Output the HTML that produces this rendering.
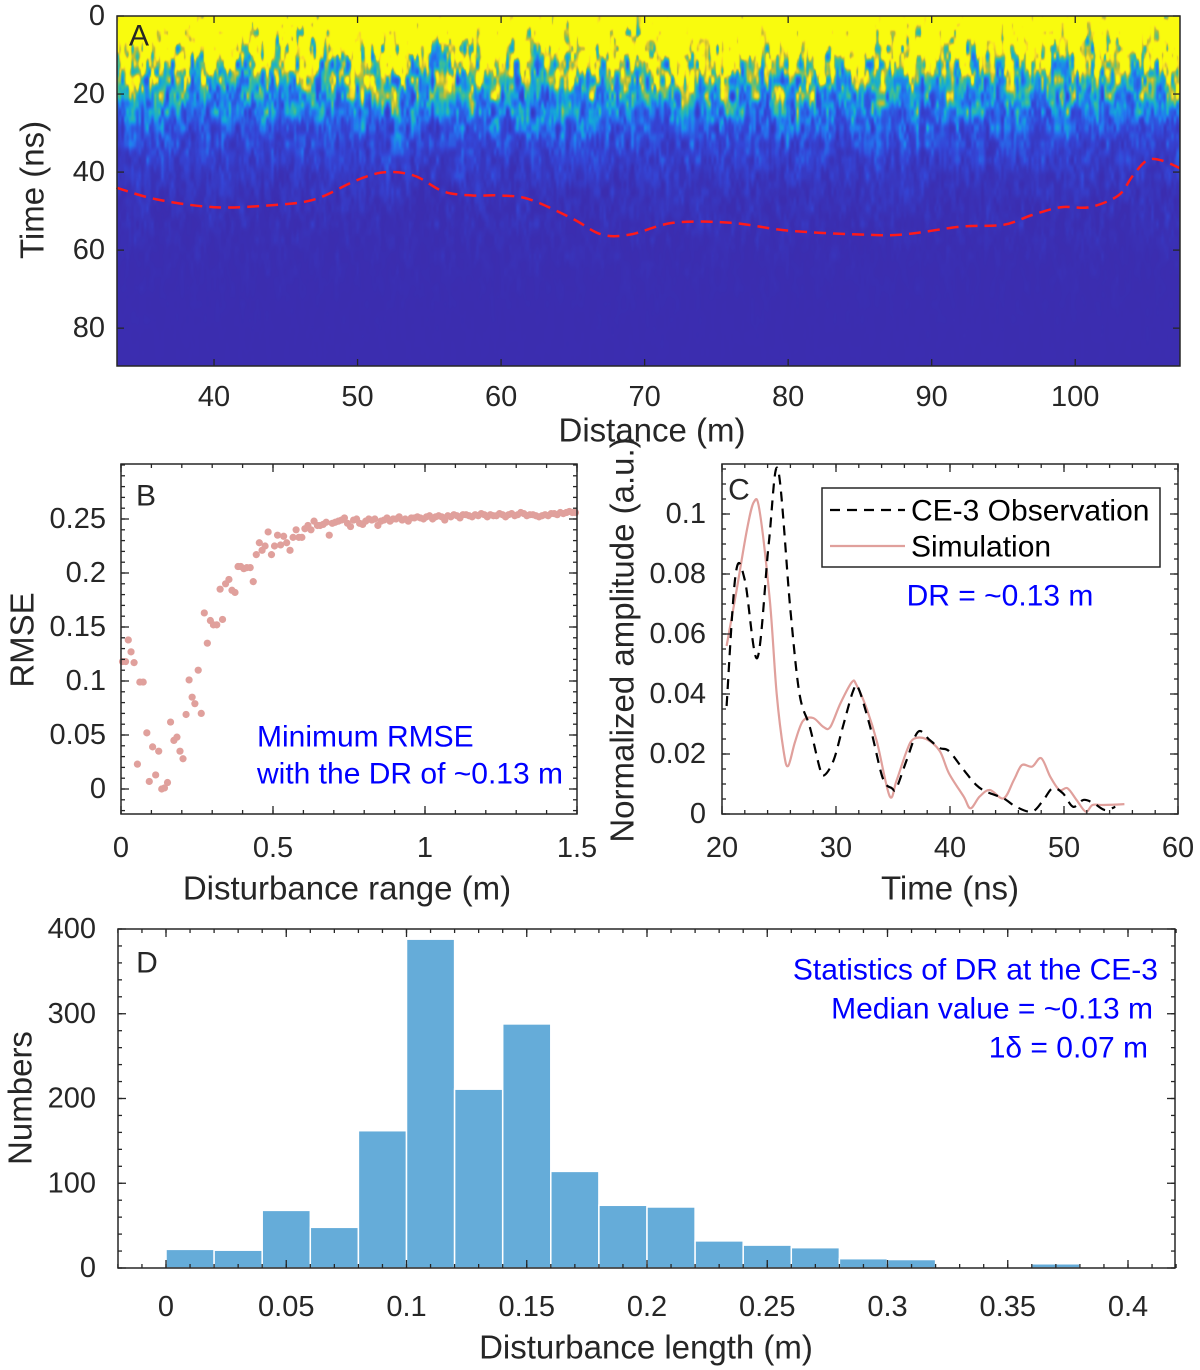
<!DOCTYPE html>
<html><head><meta charset="utf-8"><style>
html,body{margin:0;padding:0;background:#fff;}
#wrap{position:relative;width:1200px;height:1370px;overflow:hidden;font-family:"Liberation Sans",Arial,sans-serif;}
#hm{position:absolute;left:117px;top:16px;}
svg{position:absolute;left:0;top:0;}
text{font-family:"Liberation Sans",Arial,sans-serif;fill:#262626;}
</style></head><body>
<div id="wrap">
<canvas id="hm" width="1063" height="350"></canvas>
<svg id="s" width="1200" height="1370"></svg>
</div>
<script>
// ---- Panel A data ----
const boundaryDist = [33.2,36,40,44,47,50,52,54,56,58,60,62,65,67,69,72,76,80,85,88,92,95,97,99,101,103,104,105,106,107.3];
const boundaryTime = [44,47,49,48.5,47,42,40,41,45,46,46,47,52,56,56,53,53,55,56,56,54,53.5,51,49,49,46,41,37,37,39];
const aXTicks = [40,50,60,70,80,90,100];
const aYTicks = [0,20,40,60,80];
// ---- Panel B data ----
const rmseX = [0.005,0.015,0.024,0.033,0.043,0.062,0.073,0.054,0.085,0.093,0.104,0.114,0.124,0.134,0.143,0.153,0.163,0.174,0.184,0.194,0.204,0.214,0.224,0.234,0.243,0.254,0.264,0.274,0.284,0.294,0.304,0.315,0.326,0.334,0.344,0.355,0.365,0.375,0.385,0.394,0.404,0.414,0.425,0.435,0.445,0.455,0.464,0.474,0.484,0.495,0.505,0.515,0.525,0.535,0.545,0.556,0.566,0.576,0.585,0.595,0.605,0.615,0.625,0.635,0.646,0.655,0.665,0.675,0.685,0.695,
0.705,0.715,0.725,0.735,0.745,0.755,0.765,0.775,0.785,0.795,0.805,0.815,0.825,0.835,0.845,0.855,0.865,0.875,0.885,0.895,0.905,0.915,0.925,0.935,0.945,0.955,0.965,0.975,0.985,0.995,1.005,1.015,1.025,1.035,1.045,1.055,1.065,1.075,1.085,1.095,1.105,1.115,1.125,1.135,1.145,1.155,1.165,1.175,1.185,1.195,1.205,1.215,1.225,1.235,1.245,1.255,1.265,1.275,1.285,1.295,1.305,1.315,1.325,1.335,1.345,1.355,1.365,1.375,1.385,1.395,1.405,1.415,1.425,1.435,1.445,1.455,1.465,1.475,1.485,1.495];
const rmseY = [0.118,0.118,0.138,0.127,0.117,0.099,0.099,0.023,0.052,0.007,0.039,0.013,0.035,0,0.001,0.006,0.062,0.045,0.048,0.035,0.028,0.069,0.101,0.085,0.079,0.11,0.07,0.163,0.135,0.156,0.152,0.152,0.185,0.157,0.19,0.194,0.184,0.182,0.206,0.206,0.204,0.205,0.205,0.192,0.217,0.228,0.221,0.225,0.238,0.217,0.225,0.235,0.226,0.234,0.228,0.221,0.233,0.24,0.233,0.233,0.241,0.244,0.24,0.248,0.244,0.244,0.245,0.247,0.235,0.246,
0.247,0.248,0.249,0.251,0.246,0.243,0.249,0.25,0.246,0.245,0.248,0.25,0.249,0.25,0.244,0.248,0.249,0.251,0.248,0.25,0.25,0.252,0.249,0.25,0.248,0.251,0.251,0.252,0.251,0.25,0.252,0.253,0.25,0.252,0.253,0.252,0.249,0.253,0.252,0.254,0.253,0.251,0.254,0.254,0.253,0.252,0.254,0.253,0.255,0.254,0.252,0.254,0.253,0.253,0.255,0.254,0.252,0.254,0.255,0.253,0.254,0.256,0.255,0.253,0.254,0.254,0.253,0.252,0.253,0.254,0.253,0.255,0.255,0.254,0.256,0.255,0.256,0.257,0.256,0.256];
const bXTicks = [0,0.5,1,1.5];
const bXLabels = ["0","0.5","1","1.5"];
const bYTicks = [0,0.05,0.1,0.15,0.2,0.25];
const bYLabels = ["0","0.05","0.1","0.15","0.2","0.25"];
// ---- Panel C data ----
const obsT = [20.4,21.2,22,23.1,24.1,24.9,26,26.8,27.7,28.6,29,29.8,30.6,31.5,31.96,33,34.1,34.9,35.3,36.2,37.2,38.2,39.1,39.9,41.2,42.3,43.2,44.7,45.8,47.2,48.2,49,49.9,50.8,51.7,52.6,53.6,54.5];
const obsA = [0.036,0.08,0.078,0.052,0.09,0.115,0.068,0.04,0.029,0.015,0.013,0.018,0.029,0.041,0.042,0.029,0.012,0.0086,0.0086,0.018,0.0274,0.0247,0.022,0.021,0.0147,0.0097,0.0074,0.0052,0.0024,0.0008,0.0047,0.0086,0.0069,0.0024,0.0047,0.0036,0.0013,0.0024];
const simT = [20.4,21.3,22.2,22.8,23.3,24.2,24.8,25.4,25.8,26.4,27.1,28,28.9,29.5,30.4,31.4,31.8,32.7,33.6,34.7,35.3,36.2,36.8,37.9,39.1,39.9,41.2,41.8,42.6,43.5,44.7,45.6,46.3,47.2,48,48.8,49.6,50.3,51.1,51.9,52.5,53.4,55.3];
const simA = [0.056,0.075,0.095,0.104,0.101,0.071,0.04,0.021,0.016,0.024,0.031,0.032,0.029,0.029,0.037,0.044,0.043,0.035,0.024,0.006,0.011,0.021,0.025,0.025,0.021,0.0136,0.0058,0.0019,0.0058,0.008,0.0052,0.0113,0.0163,0.0158,0.0186,0.0124,0.008,0.0086,0.0047,0.0008,0.003,0.003,0.0033];
const cXTicks = [20,30,40,50,60];
const cYTicks = [0,0.02,0.04,0.06,0.08,0.1];
const cYLabels = ["0","0.02","0.04","0.06","0.08","0.1"];
// ---- Panel D data ----
const binStart = [0,0.02,0.04,0.06,0.08,0.1,0.12,0.14,0.16,0.18,0.2,0.22,0.24,0.26,0.28,0.3,0.32,0.34,0.36,0.38];
const binCount = [22,21,68,48,162,388,211,288,114,74,72,32,27,24,11,10,0,0,5,0];
const dXTicks = [0,0.05,0.1,0.15,0.2,0.25,0.3,0.35,0.4];
const dXLabels = ["0","0.05","0.1","0.15","0.2","0.25","0.3","0.35","0.4"];
const dYTicks = [0,100,200,300,400];

const TK=29, TT=33, TB=30, TL=30;
const NS="http://www.w3.org/2000/svg";
const svg=document.getElementById('s');
function el(tag,attrs,parent){const e=document.createElementNS(NS,tag);for(const k in attrs)e.setAttribute(k,attrs[k]);(parent||svg).appendChild(e);return e;}
function txt(x,y,s,size,anchor,parent,color,rot){const t=el('text',{x:x,y:y,'font-size':size,'text-anchor':anchor||'middle','dominant-baseline':'central'},parent);if(color)t.setAttribute('style','fill:'+color);if(rot!==undefined)t.setAttribute('transform','rotate('+rot+' '+x+' '+y+')');t.textContent=s;return t;}
function lin(d0,d1,r0,r1){return v=>r0+(v-d0)*(r1-r0)/(d1-d0);}
function frame(g,L,T,R,B){el('rect',{x:L,y:T,width:R-L,height:B-T,fill:'none',stroke:'#262626','stroke-width':1.5},g);}
function ticksX(g,xs,sx,T,B,len){xs.forEach(v=>{const x=sx(v);el('line',{x1:x,x2:x,y1:B,y2:B-len,stroke:'#262626','stroke-width':1.3},g);el('line',{x1:x,x2:x,y1:T,y2:T+len,stroke:'#262626','stroke-width':1.3},g);});}
function ticksY(g,ys,sy,L,R,len){ys.forEach(v=>{const y=sy(v);el('line',{x1:L,x2:L+len,y1:y,y2:y,stroke:'#262626','stroke-width':1.3},g);el('line',{x1:R,x2:R-len,y1:y,y2:y,stroke:'#262626','stroke-width':1.3},g);});}
function range(a,b,st){const r=[];for(let v=a;v<=b+1e-9;v+=st)r.push(+v.toFixed(6));return r;}
function smooth(P){let d='M'+P[0][0].toFixed(1)+','+P[0][1].toFixed(1);for(let i=0;i<P.length-1;i++){const p0=P[Math.max(0,i-1)],p1=P[i],p2=P[i+1],p3=P[Math.min(P.length-1,i+2)];
 const c1=[p1[0]+(p2[0]-p0[0])/6,p1[1]+(p2[1]-p0[1])/6],c2=[p2[0]-(p3[0]-p1[0])/6,p2[1]-(p3[1]-p1[1])/6];
 d+='C'+c1[0].toFixed(1)+','+c1[1].toFixed(1)+' '+c2[0].toFixed(1)+','+c2[1].toFixed(1)+' '+p2[0].toFixed(1)+','+p2[1].toFixed(1);}return d;}

// ===== Panel A heatmap =====
const ax=lin(33.24,107.3,117,1180), ay=lin(0,89.7,16,366);
(function(){
 const c=document.getElementById('hm'),ctx=c.getContext('2d');const W=1063,H=350;
 const img=ctx.createImageData(W,H);
 function h(i,j){let n=i*374761393+j*668265263;n=(n^(n>>>13))*1274126177;n=n^(n>>>16);return ((n>>>0)%10000)/10000;}
 function vn(x,y){const i=Math.floor(x),j=Math.floor(y),fx=x-i,fy=y-j;const sx=fx*fx*(3-2*fx),sy=fy*fy*(3-2*fy);
  const a=h(i,j),b=h(i+1,j),c2=h(i,j+1),d=h(i+1,j+1);return a+(b-a)*sx+(c2-a)*sy+(a-b-c2+d)*sx*sy;}
 const stops=[[0,60,40,168],[0.2,52,70,215],[0.38,35,120,240],[0.52,20,170,215],[0.65,60,190,150],[0.8,190,190,50],[0.92,250,220,40],[1,249,251,14]];
 function cmap(v){v=Math.max(0,Math.min(1,v));for(let k=1;k<stops.length;k++){if(v<=stops[k][0]){const a=stops[k-1],b=stops[k],f=(v-a[0])/(b[0]-a[0]);return [a[1]+(b[1]-a[1])*f,a[2]+(b[2]-a[2])*f,a[3]+(b[3]-a[3])*f];}}return stops[stops.length-1].slice(1);}
 for(let y=0;y<H;y++){const t=y/H*89.7;
  for(let x=0;x<W;x++){
   const n=0.6*vn(x/5,y/16)+0.4*vn(x/2.5+50,y/8+20);
   const edge=0.5*vn(x/20,3.3);
   const env=1.7*Math.exp(-(t-4-edge*10)/14);
   let v=env*(0.25+Math.pow(n,1.6)*1.6);
   v=Math.max(v,0.03+0.16*Math.pow(n,2.5)*Math.exp(-Math.max(0,t-50)/12));
   const col=cmap(v);const p=(y*W+x)*4;img.data[p]=col[0];img.data[p+1]=col[1];img.data[p+2]=col[2];img.data[p+3]=255;}}
 ctx.putImageData(img,0,0);
})();
const gA=el('g',{});
const bl=el('path',{d:smooth(boundaryDist.map((d,i)=>[ax(d),ay(boundaryTime[i])])),fill:'none',stroke:'#ff1a1a','stroke-width':2.5,'stroke-dasharray':'12,7','stroke-linejoin':'round'},gA);

frame(gA,117,16,1180,366);
ticksX(gA,aXTicks,ax,16,366,7);ticksY(gA,aYTicks,ay,117,1180,7);
aXTicks.forEach(v=>txt(ax(v),397,String(v),TK,'middle',gA));
aYTicks.forEach(v=>txt(105,ay(v),String(v),TK,'end',gA));
txt(652,430,'Distance (m)',TT,'middle',gA);
txt(32,190,'Time (ns)',TT,'middle',gA,null,-90);
txt(139,36,'A',TL,'middle',gA);

// ===== Panel B =====
const bx=lin(0,1.5,121,577), by=lin(0,0.25,789,519);
const gB=el('g',{});
rmseX.forEach((x,i)=>{const c=el('circle',{cx:bx(x),cy:by(rmseY[i]),r:3.6,fill:'#e0a09c'},gB);});
frame(gB,121,464,577,814);
ticksX(gB,range(0,1.5,0.1),bx,464,814,4);ticksX(gB,bXTicks,bx,464,814,8);
ticksY(gB,range(-0.02,0.3,0.01),by,121,577,4);ticksY(gB,bYTicks,by,121,577,8);
bXTicks.forEach((v,i)=>txt(bx(v),848,bXLabels[i],TK,'middle',gB));
bYTicks.forEach((v,i)=>txt(106,by(v),bYLabels[i],TK,'end',gB));
txt(347,888,'Disturbance range (m)',TT,'middle',gB);
txt(22,640,'RMSE',TT,'middle',gB,null,-90);
txt(146,496,'B',TL,'middle',gB);
txt(257,737,'Minimum RMSE',TB,'start',gB,'#0000ff');
txt(257,774,'with the DR of ~0.13 m',TB,'start',gB,'#0000ff');

// ===== Panel C =====
const cx=lin(20,60,722,1178), cy=lin(0,0.1,814,514);
const gC=el('g',{});
const sl=el('path',{d:smooth(simT.map((t,i)=>[cx(t),cy(simA[i])])),fill:'none',stroke:'#e0a09c','stroke-width':2.2,'stroke-linejoin':'round'},gC);

const ol=el('path',{d:smooth(obsT.map((t,i)=>[cx(t),cy(obsA[i])])),fill:'none',stroke:'#000','stroke-width':2.2,'stroke-dasharray':'10,7','stroke-linejoin':'round'},gC);

frame(gC,722,464,1178,814);
ticksX(gC,range(20,60,2),cx,464,814,4);ticksX(gC,cXTicks,cx,464,814,8);
ticksY(gC,range(0,0.115,0.005),cy,722,1178,4);ticksY(gC,cYTicks,cy,722,1178,8);
cXTicks.forEach(v=>txt(cx(v),848,String(v),TK,'middle',gC));
cYTicks.forEach((v,i)=>txt(706,cy(v),cYLabels[i],TK,'end',gC));
txt(950,888,'Time (ns)',TT,'middle',gC);
txt(622,640,'Normalized amplitude (a.u.)',TT,'middle',gC,null,-90);
txt(739,490,'C',TL,'middle',gC);
const lg=el('g',{},gC);
el('rect',{x:822,y:488,width:338,height:79,fill:'#fff',stroke:'#262626','stroke-width':1.5},lg);
el('line',{x1:830,x2:905,y1:510,y2:510,stroke:'#000','stroke-width':2.2,'stroke-dasharray':'10,7'},lg);
el('line',{x1:830,x2:905,y1:546,y2:546,stroke:'#e0a09c','stroke-width':2.2},lg);
txt(911,511,'CE-3 Observation',TB,'start',lg,'#000');
txt(911,547,'Simulation',TB,'start',lg,'#000');
txt(1000,596,'DR = ~0.13 m',TB,'middle',gC,'#0000ff');

// ===== Panel D =====
const dx=lin(0,0.4,166,1128), dy=lin(0,400,1268,929);
const gD=el('g',{});
binStart.forEach((b,i)=>{if(binCount[i]<=0)return;const x0=dx(b),x1=dx(b+0.02);const r=el('rect',{x:x0,y:dy(binCount[i]),width:x1-x0,height:dy(0)-dy(binCount[i]),fill:'#65acd9',stroke:'#fff','stroke-width':1.5},gD);});
frame(gD,118,929,1175,1268);
ticksX(gD,range(-0.02,0.42,0.01),dx,929,1268,4);ticksX(gD,dXTicks,dx,929,1268,8);
ticksY(gD,range(0,400,20),dy,118,1175,4);ticksY(gD,dYTicks,dy,118,1175,8);
dXTicks.forEach((v,i)=>txt(dx(v),1307,dXLabels[i],TK,'middle',gD));
dYTicks.forEach(v=>txt(96,dy(v),String(v),TK,'end',gD));
txt(646,1347,'Disturbance length (m)',TT,'middle',gD);
txt(20,1098,'Numbers',TT,'middle',gD,null,-90);
txt(147,963,'D',TL,'middle',gD);
txt(1158,970,'Statistics of DR at the CE-3',TB,'end',gD,'#0000ff');
txt(1153,1009,'Median value = ~0.13 m',TB,'end',gD,'#0000ff');
txt(1148,1048,'1δ = 0.07 m',TB,'end',gD,'#0000ff');
</script>
</body></html>
